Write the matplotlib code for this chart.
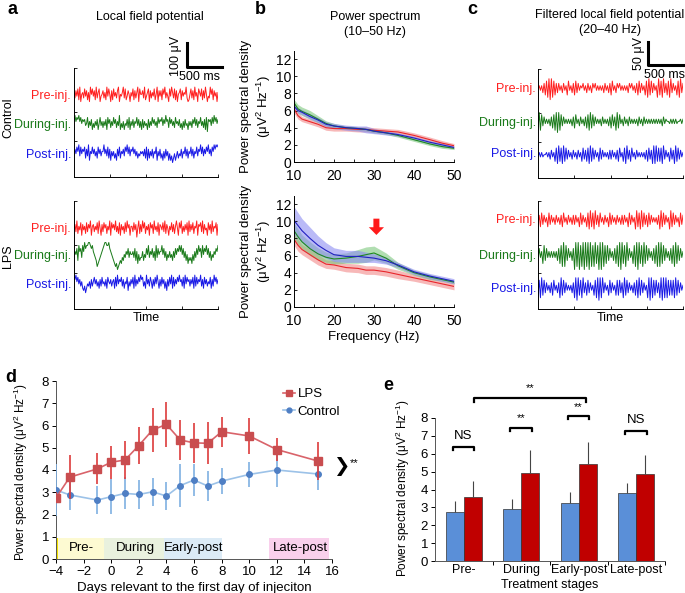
import numpy as np
import matplotlib
matplotlib.use("Agg")
import matplotlib.pyplot as plt
from matplotlib.lines import Line2D

plt.rcParams['font.family'] = ['Liberation Sans', 'DejaVu Sans']
plt.rcParams['font.size'] = 9
plt.rcParams['mathtext.default'] = 'regular'

W, H = 685, 593

# ---------------- data ----------------
trace_names = ['Pre-inj.', 'During-inj.', 'Post-inj.']
trace_colors = ['#ff2020', '#1a7a1a', '#1a1ae6']

# raw LFP traces (a), one level digit per sample
lfp_ctrl_pre = ("6374829156" "3847261958" "4729368145" "7362948517" "2846379154"
                "6938247516" "4827369185" "5739246817" "3648259174" "7285936418"
                "4963827156" "8274659312" "5837294618" "6482739514" "3958274616")
lfp_ctrl_during = ("7968796857" "6745836472" "5364725846" "3647285736" "4857364925"
                   "3625473826" "4736584736" "2736452736" "4857463857" "6847596738"
                   "5746385647" "3526374526" "4637584736" "5846372817" "6748596857")
lfp_ctrl_post = ("4758694857" "6837492658" "5746385746" "6957483726" "4635274836"
                 "5748695847" "6857463546" "5647382736" "4736582647" "3526374625"
                 "2413524635" "4736584736" "5847365847" "6958475869" "5748697989")
lfp_lps_pre = ("5739264817" "4628375916" "7364829517" "3857264918" "5749362817"
               "4628395716" "6384705927" "3958264718" "5729463817" "6483927516"
               "4837269518" "5926374819" "3748265917" "6839274518" "4729365817")
lfp_lps_during = ("4657386748" "6978899878" "6543123456" "7899889765" "4321201232"
                  "4354657465" "5647362534" "4635475846" "5746384756" "6857463546"
                  "4536475768" "6857463524" "3425364758" "6748576857" "4635465768")
lfp_lps_post = ("8796857463" "2413546374" "6857463748" "5647386574" "6738495768"
                "4736582647" "5839475869" "7846395748" "6374859637" "4857362748"
                "5938475869" "6748395867" "4758394857" "6947385746" "5837496857")

# filtered LFP traces (c)
filt_ctrl_pre = ("4646372819" "0918273746" "3746284637" "2837465746" "3746375746" "4646374637"
                 "2846375746" "4646375746" "3728374628" "1928374619" "2819372819" "3746281937")
filt_ctrl_during = ("1918374646" "3728190918" "3746464637" "2846374637" "2819283746" "4637464637"
                    "2837192846" "3746374646" "4637463746" "4646464646" "4637465546" "4646455646")
filt_ctrl_post = ("4646455646" "3746281928" "1928374637" "4637462837" "2819283746" "2837464637"
                  "3746372846" "2819372846" "3746464637" "2837191928" "2819374628" "3719283746")
filt_lps_pre = ("3728374628" "3746374637" "2846374637" "3746283746" "2819281937" "2846374628"
                "3746374637" "3746283746" "1928192837" "2837464637" "1928374619" "2837462837")
filt_lps_during = ("3746283746" "4646463728" "1918374637" "0919081909" "1909181928" "0909182837"
                   "4637281909" "2819374628" "1909281928" "3746372819" "1928374637" "2819283746")
filt_lps_post = ("2819283746" "3728463719" "2837464637" "1909281937" "2837462819" "0919374628"
                 "3746282837" "1928374637" "2819283746" "1909182837" "1909191828" "2819283746")

# power spectra (b)
freq = [10, 11, 12, 14, 16, 18, 20, 23, 26, 28, 30, 33, 36, 40, 44, 47, 50]
psd_ctrl_pre = [6.2, 5.4, 5.0, 4.7, 4.4, 4.0, 3.9, 3.9, 3.8, 3.8, 3.7, 3.6, 3.5, 3.1, 2.6, 2.2, 1.9]
psd_ctrl_pre_sem = [0.5, 0.4, 0.3, 0.3, 0.3, 0.3, 0.3, 0.3, 0.3, 0.3, 0.3, 0.3, 0.3, 0.3, 0.3, 0.3, 0.25]
psd_ctrl_during = [6.9, 6.2, 5.9, 5.5, 5.0, 4.5, 4.2, 4.0, 3.9, 3.8, 3.6, 3.4, 3.1, 2.6, 2.1, 1.8, 1.6]
psd_ctrl_during_sem = [0.4, 0.5, 0.5, 0.5, 0.4, 0.3, 0.3, 0.2, 0.2, 0.2, 0.2, 0.2, 0.2, 0.2, 0.2, 0.2, 0.15]
psd_ctrl_post = [6.5, 6.0, 5.8, 5.3, 4.9, 4.4, 4.2, 4.0, 3.9, 3.8, 3.6, 3.4, 3.2, 2.8, 2.3, 2.0, 1.7]
psd_ctrl_post_sem = [0.3, 0.3, 0.3, 0.3, 0.3, 0.3, 0.3, 0.3, 0.3, 0.4, 0.3, 0.25, 0.2, 0.2, 0.2, 0.2, 0.15]
psd_lps_pre = [7.9, 7.2, 6.7, 6.1, 5.5, 5.0, 4.9, 4.6, 4.5, 4.3, 4.3, 4.1, 3.8, 3.4, 3.0, 2.7, 2.4]
psd_lps_pre_sem = [0.7, 0.7, 0.6, 0.6, 0.6, 0.5, 0.5, 0.5, 0.5, 0.5, 0.5, 0.5, 0.5, 0.4, 0.4, 0.4, 0.4]
psd_lps_during = [8.9, 8.2, 7.6, 6.8, 6.2, 5.8, 5.6, 5.7, 5.9, 6.1, 6.3, 5.7, 4.8, 4.0, 3.5, 3.2, 2.9]
psd_lps_during_sem = [0.9, 0.9, 0.8, 0.8, 0.7, 0.6, 0.6, 0.6, 0.8, 0.9, 0.8, 0.6, 0.4, 0.3, 0.3, 0.2, 0.2]
psd_lps_post = [10.1, 9.5, 8.9, 8.0, 7.2, 6.6, 6.1, 5.9, 5.9, 5.8, 5.7, 5.4, 4.9, 4.1, 3.6, 3.3, 3.0]
psd_lps_post_sem = [1.6, 1.5, 1.4, 1.3, 1.1, 0.9, 0.8, 0.7, 0.7, 0.6, 0.5, 0.4, 0.3, 0.3, 0.3, 0.3, 0.3]

# time course (d)
days = [-4, -3, -1, 0, 1, 2, 3, 4, 5, 6, 7, 8, 10, 12, 15]
lps_mean = [2.75, 3.68, 4.05, 4.35, 4.45, 5.10, 5.80, 6.05, 5.35, 5.22, 5.20, 5.72, 5.53, 4.92, 4.40]
lps_err = [0.25, 1.0, 0.7, 0.75, 0.85, 0.82, 0.97, 1.0, 0.9, 0.9, 0.95, 0.67, 0.82, 0.52, 0.87]
ctrl_mean = [3.10, 2.88, 2.65, 2.80, 2.95, 2.90, 3.02, 2.83, 3.30, 3.55, 3.28, 3.50, 3.80, 4.00, 3.82]
ctrl_err = [1.15, 0.68, 0.62, 0.78, 0.72, 0.65, 0.62, 0.62, 0.97, 0.72, 0.66, 0.58, 0.58, 0.75, 0.70]
stage_names = ['Pre-', 'During', 'Early-post', 'Late-post']
stage_start = [-4, -0.5, 3.8, 11.4]
stage_end = [-0.5, 3.8, 8.0, 15.8]
stage_colors = ['#fdfad2', '#e9f1de', '#dcebf6', '#f9d0ec']

# stage means (e)
bar_ctrl = [2.72, 2.90, 3.22, 3.78]
bar_ctrl_err = [0.63, 0.58, 0.65, 0.57]
bar_lps = [3.58, 4.92, 5.42, 4.88]
bar_lps_err = [0.92, 1.30, 1.23, 1.07]
pair_labels = ['NS', '**', '**', 'NS']


def fx(x):
    return x / W


def fy(y):
    return 1 - y / H


def add_ax(left, top, right, bottom):
    return fig.add_axes([fx(left), fy(bottom), (right - left) / W, (bottom - top) / H])


def to_vals(s):
    return np.array([int(c) for c in s]) - 4.5


def trace_axis(ax):
    for sp in ['top', 'right']:
        ax.spines[sp].set_visible(False)
    ax.set_xlim(0, 1)
    ax.set_ylim(0, 108)
    ax.set_xticks([0.25, 0.5, 0.75, 1.0])
    ax.set_xticklabels([])
    ax.set_yticks([36, 64, 108])
    ax.set_yticklabels([])
    ax.tick_params(direction='in', length=2, width=0.6)
    for sp in ['left', 'bottom']:
        ax.spines[sp].set_linewidth(0.7)


def draw_traces(ax, strings, offsets, gains):
    for s, off, g, col in zip(strings, offsets, gains, trace_colors):
        v = to_vals(s) * g + off
        ax.plot(np.linspace(0, 1, len(v)), v, color=col, lw=0.7)


fig = plt.figure(figsize=(W / 100, H / 100), dpi=100)

# ---------------- a ----------------
ax_a1 = add_ax(74, 68, 218, 177)
trace_axis(ax_a1)
draw_traces(ax_a1, [lfp_ctrl_pre, lfp_ctrl_during, lfp_ctrl_post], [81, 52, 22], [1.8, 2.0, 2.2])
ax_a2 = add_ax(74, 201, 218, 309)
trace_axis(ax_a2)
draw_traces(ax_a2, [lfp_lps_pre, lfp_lps_during, lfp_lps_post], [80, 53, 24], [1.8, 3.0, 2.2])

fig.text(fx(8), fy(9), 'a', fontsize=13, fontweight='bold', va='center', ha='left')
fig.text(fx(150), fy(17), 'Local field potential', ha='center', va='center')
fig.text(fx(8), fy(118), 'Control', rotation=90, ha='center', va='center')
fig.text(fx(8), fy(256), 'LPS', rotation=90, ha='center', va='center')
for ys in [[96, 125, 155], [229, 256, 285]]:
    for name, col, y in zip(trace_names, trace_colors, ys):
        fig.text(fx(71), fy(y), name, color=col, ha='right', va='center')
fig.text(fx(146), fy(318), 'Time', ha='center', va='center')
fig.add_artist(Line2D([fx(187), fx(187), fx(222)], [fy(43), fy(67), fy(67)],
                      color='black', lw=2.2, transform=fig.transFigure))
fig.text(fx(176), fy(56), '100 μV', rotation=90, ha='center', va='center')
fig.text(fx(200), fy(77), '500 ms', ha='center', va='center')

# ---------------- c ----------------
ax_c1 = add_ax(538, 69, 683, 178)
trace_axis(ax_c1)
draw_traces(ax_c1, [filt_ctrl_pre, filt_ctrl_during, filt_ctrl_post], [88, 55, 22], [2.3, 2.2, 2.2])
ax_c2 = add_ax(538, 201, 683, 309)
trace_axis(ax_c2)
draw_traces(ax_c2, [filt_lps_pre, filt_lps_during, filt_lps_post], [88, 53, 20], [2.3, 3.0, 2.5])

fig.text(fx(467), fy(9), 'c', fontsize=13, fontweight='bold', va='center', ha='left')
fig.text(fx(610), fy(15), 'Filtered local field potential', ha='center', va='center')
fig.text(fx(610), fy(30), '(20–40 Hz)', ha='center', va='center')
for ys in [[89, 123, 154], [220, 256, 289]]:
    for name, col, y in zip(trace_names, trace_colors, ys):
        fig.text(fx(536), fy(y), name, color=col, ha='right', va='center')
fig.text(fx(610), fy(318), 'Time', ha='center', va='center')
fig.add_artist(Line2D([fx(648), fx(648), fx(685)], [fy(42), fy(65), fy(65)],
                      color='black', lw=2.2, transform=fig.transFigure))
fig.text(fx(639), fy(54), '50 μV', rotation=90, ha='center', va='center')
fig.text(fx(664), fy(75), '500 ms', ha='center', va='center')

# ---------------- b ----------------
def spectrum_axis(ax):
    for sp in ['top', 'right']:
        ax.spines[sp].set_visible(False)
    ax.set_xlim(10, 50)
    ax.set_ylim(0, 13)
    ax.set_xticks([10, 20, 30, 40, 50])
    ax.set_xticks([15, 25, 35, 45], minor=True)
    ax.set_yticks(range(0, 13, 2))
    ax.tick_params(direction='in', length=2, width=0.6, labelsize=10, pad=2)
    ax.tick_params(axis='x', pad=5)
    ax.tick_params(which='minor', direction='in', length=2, width=0.6)
    ax.set_ylabel('Power spectral density\n(μV$^2$ Hz$^{-1}$)', fontsize=9.5, labelpad=2)
    for sp in ['left', 'bottom']:
        ax.spines[sp].set_linewidth(0.7)


band_colors = ['#f28a8a', '#7dc87d', '#8c8cf2']
line_colors = ['#e8262b', '#1f8a1f', '#2020c0']

ax_b1 = add_ax(294, 50.5, 454, 162)
spectrum_axis(ax_b1)
for m, s, bc, lc in zip([psd_ctrl_pre, psd_ctrl_during, psd_ctrl_post],
                        [psd_ctrl_pre_sem, psd_ctrl_during_sem, psd_ctrl_post_sem],
                        band_colors, line_colors):
    m, s = np.array(m), np.array(s)
    ax_b1.fill_between(freq, m - s, m + s, color=bc, alpha=0.6, lw=0)
    ax_b1.plot(freq, m, color=lc, lw=0.8)

ax_b2 = add_ax(294, 195.5, 454, 307)
spectrum_axis(ax_b2)
for m, s, bc, lc in zip([psd_lps_pre, psd_lps_during, psd_lps_post],
                        [psd_lps_pre_sem, psd_lps_during_sem, psd_lps_post_sem],
                        band_colors, line_colors):
    m, s = np.array(m), np.array(s)
    ax_b2.fill_between(freq, m - s, m + s, color=bc, alpha=0.6, lw=0)
    ax_b2.plot(freq, m, color=lc, lw=0.8)
ax_b2.arrow(30.6, 10.3, 0, -1.9, width=1.5, head_width=3.8, head_length=0.9,
            length_includes_head=True, color='#ff1a1a', lw=0)
ax_b2.set_xlabel('Frequency (Hz)', fontsize=9.5, labelpad=2)

fig.text(fx(255), fy(9), 'b', fontsize=13, fontweight='bold', va='center', ha='left')
fig.text(fx(375), fy(17), 'Power spectrum', ha='center', va='center')
fig.text(fx(375), fy(32), '(10–50 Hz)', ha='center', va='center')

# ---------------- d ----------------
ax_d = add_ax(56, 381, 332, 559)
for sp in ['top', 'right']:
    ax_d.spines[sp].set_visible(False)
for s0, s1, c, name in zip(stage_start, stage_end, stage_colors, stage_names):
    ax_d.fill_between([s0, s1], 0, 0.95, color=c, lw=0)
    ax_d.text((s0 + s1) / 2 + 0.1, 0.48, name, ha='center', va='center', fontsize=9.5)
ax_d.fill_between([-4, -3.85], 0, 0.95, color='#f2e000', lw=0)
ctrl_line = '#9cc2e8'
ctrl_mark = '#4f7fc4'
lps_line = '#d9636a'
lps_mark = '#c94d4f'
ax_d.errorbar(days, ctrl_mean, yerr=ctrl_err, color=ctrl_line, ecolor='#7fb0e2', lw=1.2,
              elinewidth=1.2, marker='o', ms=4, mfc=ctrl_mark, mec=ctrl_mark, capsize=0, zorder=3)
ax_d.errorbar(days, lps_mean, yerr=lps_err, color=lps_line, ecolor='#dd3b3b', lw=1.2,
              elinewidth=1.2, marker='s', ms=6, mfc=lps_mark, mec=lps_mark, capsize=0, zorder=4)
ax_d.set_xlim(-4, 16)
ax_d.set_ylim(0, 8)
ax_d.set_yticks(range(0, 9))
ax_d.set_xticks(range(-4, 17, 2))
ax_d.set_xticklabels([str(v).replace('-', '−') for v in range(-4, 17, 2)])
ax_d.tick_params(labelsize=9.5, length=3, width=0.7, pad=2)
for sp in ['left', 'bottom']:
    ax_d.spines[sp].set_linewidth(0.7)
    ax_d.spines[sp].set_color('#555555')
ax_d.set_ylabel('Power spectral density (μV$^2$ Hz$^{-1}$)', fontsize=8.5)
ax_d.yaxis.set_label_coords(-26 / 276, 0.49)
ax_d.set_xlabel('Days relevant to the first day of injeciton', fontsize=9.5, labelpad=3)
leg_handles = [Line2D([], [], color=lps_line, marker='s', ms=5, mfc=lps_mark, mec=lps_mark, lw=1.2),
               Line2D([], [], color=ctrl_line, marker='o', ms=3.5, mfc=ctrl_mark, mec=ctrl_mark, lw=1.2)]
ax_d.legend(leg_handles, ['LPS', 'Control'], loc='upper left',
            bbox_to_anchor=((283 - 56) / 276, (559 - 388) / 178),
            frameon=False, handlelength=0.9, handletextpad=0.2, labelspacing=0.4,
            fontsize=9.5, borderpad=0, borderaxespad=0)
fig.text(fx(341), fy(466), '❯', fontsize=14, ha='center', va='center', family='DejaVu Sans')
fig.text(fx(350), fy(463), '**', fontsize=8, ha='left', va='center')
fig.text(fx(5), fy(377), 'd', fontsize=13, fontweight='bold', va='center', ha='left')

# ---------------- e ----------------
ax_e = add_ax(435, 418, 665, 561)
for sp in ['top', 'right']:
    ax_e.spines[sp].set_visible(False)
xs = np.arange(len(stage_names))
bw = 0.31
ax_e.bar(xs - bw / 2, bar_ctrl, bw, color='#5a8fd8', edgecolor='#333333', lw=0.5,
         yerr=[np.zeros(4), bar_ctrl_err], error_kw=dict(ecolor='#444444', elinewidth=0.8, capsize=0))
ax_e.bar(xs + bw / 2, bar_lps, bw, color='#c00000', edgecolor='#333333', lw=0.5,
         yerr=[np.zeros(4), bar_lps_err], error_kw=dict(ecolor='#444444', elinewidth=0.8, capsize=0))
ax_e.set_xlim(-0.5, 3.5)
ax_e.set_ylim(0, 8)
ax_e.set_yticks(range(0, 9))
ax_e.set_xticks(xs)
ax_e.set_xticklabels(stage_names)
ax_e.set_xticks([0.5, 1.5, 2.5, 3.5], minor=True)
ax_e.tick_params(axis='x', length=0, labelsize=9, pad=2)
ax_e.tick_params(axis='x', which='minor', length=3, width=0.7)
ax_e.tick_params(axis='y', labelsize=9.5, length=3, width=0.7, pad=2)
for sp in ['left', 'bottom']:
    ax_e.spines[sp].set_linewidth(0.7)
    ax_e.spines[sp].set_color('#555555')
ax_e.set_ylabel('Power spectral density (μV$^2$ Hz$^{-1}$)', fontsize=8.5)
ax_e.yaxis.set_label_coords(-23 / 230, 0.51)
fig.text(fx(550), fy(585), 'Treatment stages', ha='center', va='center', fontsize=9)


def bracket(ax, x0, x1, y, text, ty, drop=0.18):
    ax.plot([x0, x0, x1, x1], [y - drop, y, y, y - drop], color='black', lw=1.6, clip_on=False)
    ax.text((x0 + x1) / 2, ty, text, ha='center', va='center', fontsize=9.5 if text == 'NS' else 8,
            clip_on=False)


bracket_y = [6.37, 7.43, 8.1, 7.3]
text_y = [7.0, 8.0, 8.6, 7.9]
for i, lab in enumerate(pair_labels):
    bracket(ax_e, xs[i] - 0.19, xs[i] + 0.18, bracket_y[i], lab, text_y[i])
bracket(ax_e, 0.18, 2.12, 9.1, '**', 9.65)
fig.text(fx(383), fy(386), 'e', fontsize=13, fontweight='bold', va='center', ha='left')

fig.savefig('out.png', dpi=100)
